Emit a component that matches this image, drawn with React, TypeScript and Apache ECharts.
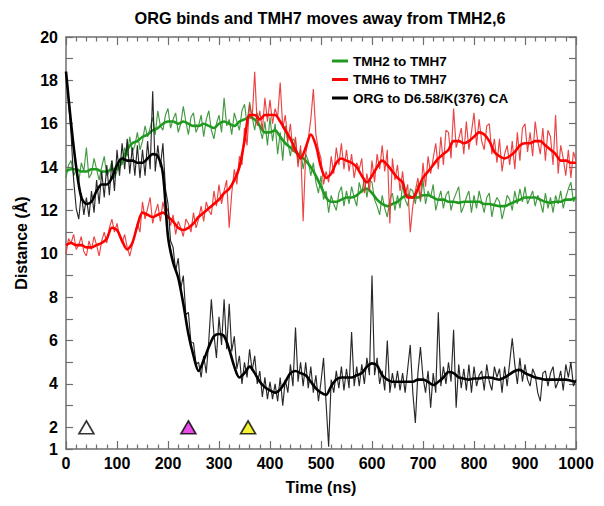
import React, { useEffect, useRef } from 'react';
import * as echarts from 'echarts';

const TITLE = 'ORG binds and TMH7 moves away from TMH2,6';
const X_NAME = 'Time (ns)';
const Y_NAME = 'Distance (Å)';
const SERIES_NAMES = ['TMH2 to TMH7', 'TMH6 to TMH7', 'ORG to D6.58/K(376) CA'];
const SERIES_COLORS = ['#1f9a1f', '#ff0000', '#000000'];
const RAW_COLORS = ['#2f8f2f', '#e83030', '#111111'];

const RAW_STEP = 5; // ns between raw samples
const SMOOTH_STEP = 10; // ns between smoothed samples

const tmh2Raw = [
  13.5, 14.1, 14.3, 13.6, 13.9, 13.3, 14.2, 13.8, 14.9, 13.5,
  13.7, 14.4, 13.9, 13.4, 14.0, 14.5, 13.6, 13.8, 14.3, 13.5,
  13.8, 14.4, 14.1, 14.9, 14.5, 15.4, 14.7, 15.0, 15.6, 14.8,
  15.2, 15.9, 15.4, 15.8, 16.3, 15.5, 16.6, 15.9, 15.7, 16.4,
  16.7, 15.8, 16.2, 16.5, 15.6, 16.0, 16.8, 16.1, 15.5, 16.3,
  16.5, 15.6, 15.9, 16.4, 15.4, 16.2, 16.6, 15.7, 15.3, 16.0,
  16.4, 15.6, 17.2, 15.9, 16.2, 15.5, 16.5, 16.1, 15.7, 16.6,
  16.9, 16.0, 17.0, 16.3, 15.7, 16.5, 15.8, 15.3, 16.1, 15.0,
  16.3, 15.2, 16.0, 14.6, 15.6, 14.3, 15.9, 15.1, 14.5, 15.3,
  15.2, 14.2, 14.8, 13.9, 14.6, 14.3, 13.6, 14.2, 13.3, 12.8,
  13.6, 12.5, 12.9, 11.9, 12.7, 12.3, 12.0, 12.8, 13.1, 12.2,
  12.9, 12.3, 13.1, 12.6, 12.2, 13.3, 12.8, 13.5, 12.6, 13.4,
  13.3, 12.5, 12.2, 11.8, 12.7, 12.1, 11.7, 12.5, 12.8, 12.0,
  12.7, 12.1, 13.2, 12.5, 12.2, 13.0, 12.9, 12.3, 13.2, 12.4,
  13.4, 12.3, 12.9, 12.6, 13.2, 12.0, 12.5, 12.9, 12.1, 12.7,
  12.9, 12.0, 12.5, 12.8, 13.1, 11.9, 12.2, 12.6, 12.9, 11.9,
  12.7, 12.1, 12.9, 12.4, 11.9, 12.6, 12.8, 11.7, 12.3, 12.6,
  12.4, 11.6, 12.1, 12.7, 12.5, 12.0, 12.9, 12.3, 13.0, 12.4,
  13.1, 12.3, 12.6, 12.9, 12.2, 12.7, 12.4, 11.9, 12.8, 12.1,
  12.6, 11.9, 12.7, 12.3, 12.9, 12.1, 12.6, 13.0, 13.3, 12.4,
  12.6,
];

const tmh6Raw = [
  10.0, 10.7, 10.5, 10.9, 10.2, 10.4, 10.8, 10.1, 9.9, 10.6,
  10.2, 10.8, 10.4, 9.9, 10.6, 11.0, 10.5, 11.2, 11.6, 11.0,
  11.4, 10.8, 10.5, 10.9, 10.3, 9.9, 10.4, 10.9, 11.4, 11.0,
  12.4, 11.6, 12.1, 12.6, 11.4, 11.9, 12.3, 11.5, 12.4, 11.8,
  12.1, 11.3, 11.8, 10.9, 11.5, 11.2, 10.8, 11.6, 11.4, 11.0,
  11.9, 11.2, 11.6, 12.2, 11.5, 12.4, 12.0, 11.8, 12.9, 12.2,
  13.2, 12.3, 12.9, 13.4, 11.2, 12.8, 13.9, 13.2, 14.5, 14.1,
  15.8, 15.0, 16.9, 16.2, 18.4, 15.9, 16.6, 15.7, 17.2, 16.1,
  17.1, 16.0, 16.7, 16.3, 17.9, 15.8, 16.4, 15.2, 16.0, 14.7,
  15.4, 14.0, 15.0, 11.5, 14.6, 15.3, 16.2, 17.6, 15.5, 14.8,
  14.4, 13.2, 13.8, 13.3, 14.5, 13.7, 14.9, 14.1, 15.1, 13.9,
  14.8, 13.8, 14.6, 13.5, 14.2, 13.9, 14.4, 12.8, 13.7, 12.9,
  14.3, 13.3, 14.6, 13.9, 15.0, 13.8, 14.8, 11.4, 14.4, 13.4,
  14.1, 12.9, 13.8, 12.7, 13.2, 11.0, 12.2, 12.9, 13.5, 12.5,
  14.2, 13.1, 14.5, 13.7, 14.4, 15.1, 13.9, 15.4, 14.1, 15.7,
  15.6, 14.4, 16.7, 14.9, 15.3, 15.8, 14.6, 16.1, 14.8, 15.6,
  16.5, 15.0, 16.2, 15.2, 14.8, 15.9, 16.0, 14.6, 15.3, 14.2,
  15.3, 13.8, 14.6, 15.0, 14.1, 15.2, 13.9, 15.6, 14.3, 15.8,
  16.0, 14.7, 15.6, 14.5, 16.1, 15.2, 14.6, 15.8, 14.3, 15.7,
  15.4, 14.1, 16.4, 13.7, 15.0, 14.4, 13.6, 14.8, 13.5, 14.7,
  14.3,
];

const orgRaw = [
  18.4, 17.0, 15.5, 13.4, 12.1, 11.6, 12.8, 11.8, 12.6, 11.7,
  12.9, 11.9, 13.4, 12.3, 13.8, 12.6, 14.1, 12.7, 14.3, 12.9,
  14.8, 13.6, 15.1, 13.9, 15.3, 13.7, 14.9, 13.6, 15.0, 13.5,
  14.8, 13.6, 15.2, 13.9, 17.5, 13.8, 15.0, 14.0, 15.1, 13.0,
  12.3, 10.6, 10.3, 9.2, 9.8, 8.4, 9.0, 7.2, 7.3, 5.9,
  5.9, 4.9, 5.0, 4.3, 5.3, 4.5, 6.0, 7.9, 6.3, 5.2,
  7.1, 5.8, 7.9, 5.6, 7.7, 5.5, 6.2, 4.7, 5.3, 4.0,
  5.0, 4.3, 5.6, 4.6, 5.3, 4.0, 4.6, 3.4, 4.3, 3.3,
  4.1, 3.3, 4.0, 3.2, 4.3, 3.0, 4.2, 3.6, 4.9, 3.9,
  6.6, 4.1, 5.0, 3.9, 5.0, 3.8, 4.8, 3.6, 4.4, 3.2,
  4.1, 5.2, 3.1, 1.1, 4.2, 3.6, 4.6, 3.8, 4.8, 3.7,
  4.7, 3.8, 6.4, 3.9, 4.8, 3.9, 4.9, 4.0, 5.2, 4.4,
  9.0, 4.4, 5.2, 4.0, 4.6, 3.7, 6.0, 3.6, 4.5, 3.8,
  4.6, 3.7, 4.5, 3.6, 4.7, 5.8, 3.6, 2.2, 4.5, 5.7,
  4.3, 3.6, 4.6, 2.9, 4.5, 3.6, 7.3, 3.9, 4.8, 4.0,
  5.0, 4.1, 6.5, 2.9, 4.9, 3.8, 4.7, 3.7, 4.9, 3.6,
  4.8, 3.9, 4.4, 4.6, 3.7, 4.9, 4.1, 3.7, 4.8, 4.3,
  4.7, 3.6, 4.8, 3.9, 5.0, 6.1, 4.9, 4.0, 5.2, 4.1,
  4.9, 4.2, 3.9, 4.7, 4.4, 3.6, 3.2, 4.5, 4.6, 3.9,
  4.5, 4.8, 3.8, 4.1, 4.6, 3.7, 4.9, 4.3, 5.0, 3.9,
  4.2,
];

const tmh2Smooth = [
  13.8, 13.9, 13.9, 13.8, 13.8, 13.9, 13.9, 13.8, 13.8, 13.9,
  13.9, 14.3, 14.8, 15.1, 15.2, 15.4, 15.5, 15.7, 15.8, 16.0,
  16.1, 16.1, 16.0, 16.1, 16.0, 15.9, 15.9, 16.0, 15.9, 15.8,
  16.0, 16.1, 16.0, 15.9, 16.1, 16.2, 16.3, 16.2, 15.9, 15.6,
  15.6, 15.7, 15.4, 15.1, 14.9, 14.7, 14.5, 14.3, 14.0, 13.6,
  13.1, 12.6, 12.4, 12.4, 12.5, 12.6, 12.6, 12.7, 12.9, 13.0,
  12.8, 12.5, 12.3, 12.2, 12.3, 12.4, 12.6, 12.7, 12.6, 12.6,
  12.7, 12.7, 12.6, 12.5, 12.5, 12.4, 12.4, 12.35, 12.4, 12.4,
  12.4, 12.4, 12.3, 12.3, 12.25, 12.2, 12.2, 12.3, 12.4, 12.5,
  12.6, 12.6, 12.6, 12.5, 12.4, 12.35, 12.4, 12.4, 12.5, 12.5,
  12.6,
];

const tmh6Smooth = [
  10.4, 10.5, 10.4, 10.4, 10.3, 10.3, 10.4, 10.5, 10.7, 11.2,
  11.1, 10.6, 10.2, 10.5, 11.3, 11.9, 11.8, 11.7, 11.8, 11.9,
  11.7, 11.5, 11.2, 11.1, 11.2, 11.4, 11.7, 11.9, 12.1, 12.3,
  12.5, 12.8, 13.0, 13.4, 14.0, 15.2, 16.4, 16.4, 16.2, 16.4,
  16.4, 16.4, 16.1, 15.7, 15.3, 14.8, 14.4, 14.9, 15.5, 15.0,
  14.0, 13.5, 13.7, 14.2, 14.4, 14.3, 14.2, 14.0, 13.6, 13.3,
  13.6, 14.0, 14.3, 14.1, 13.8, 13.5, 13.3, 12.6, 12.6, 13.0,
  13.5, 13.8, 14.1, 14.4, 14.6, 14.8, 15.2, 15.2, 15.1, 15.2,
  15.4, 15.6, 15.5, 15.2, 14.7, 14.5, 14.4, 14.5, 14.7, 15.0,
  15.1, 15.1, 15.2, 15.2, 15.0, 14.8, 14.6, 14.3, 14.3, 14.2,
  14.2,
];

const orgSmooth = [
  18.4, 16.0, 14.0, 12.6, 12.3, 12.4, 12.9, 13.2, 13.2, 13.5,
  14.1, 14.4, 14.3, 14.3, 14.2, 14.2, 14.4, 14.6, 14.5, 13.7,
  10.8, 9.6, 8.9, 7.7, 6.3, 5.3, 4.6, 5.1, 5.7, 6.2,
  6.3, 6.2, 5.6, 4.8, 4.3, 4.5, 4.8, 4.5, 4.1, 3.85,
  3.7, 3.6, 3.75, 4.1, 4.5, 4.6, 4.5, 4.4, 4.1, 3.8,
  3.6, 3.5, 3.9, 4.2, 4.3, 4.3, 4.3, 4.4, 4.5, 4.8,
  4.95, 4.85, 4.4, 4.2, 4.1, 4.1, 4.1, 4.1, 4.1, 4.2,
  4.2, 4.1, 3.95, 4.1, 4.3, 4.55, 4.5, 4.3, 4.25, 4.2,
  4.25, 4.25, 4.3, 4.3, 4.25, 4.2, 4.3, 4.45, 4.6, 4.65,
  4.5, 4.4, 4.3, 4.25, 4.2, 4.2, 4.2, 4.2, 4.2, 4.15,
  4.1,
];

const markerTimes = [40, 240, 357];
const markerDistances = [2, 2, 2];
const markerColors = ['#ffffff', '#e21ee2', '#f2ee00'];

const FONT = '"Liberation Sans", Arial, Helvetica, sans-serif';
const AXIS_GRAY = '#6e6e6e';

const toPairs = (vals: number[], step: number) => vals.map((v, i) => [i * step, v]);

export default function App() {
  const ref = useRef<HTMLDivElement>(null);

  useEffect(() => {
    if (!ref.current) return;
    const chart = echarts.init(ref.current, undefined, { renderer: 'svg' });

    const raws = [tmh2Raw, tmh6Raw, orgRaw];
    const smooths = [tmh2Smooth, tmh6Smooth, orgSmooth];
    const series: any[] = [];
    for (let k = 0; k < 3; k++) {
      series.push({
        name: SERIES_NAMES[k] + ' (raw)',
        type: 'line',
        data: toPairs(raws[k], RAW_STEP),
        showSymbol: false,
        silent: true,
        lineStyle: { color: RAW_COLORS[k], width: 1.15, opacity: 0.9 },
        itemStyle: { color: RAW_COLORS[k] },
        z: 2 + k * 2,
      });
      series.push({
        name: SERIES_NAMES[k],
        type: 'line',
        data: toPairs(smooths[k], SMOOTH_STEP),
        showSymbol: false,
        silent: true,
        smooth: 0.3,
        lineStyle: { color: SERIES_COLORS[k], width: 2.6 },
        itemStyle: { color: SERIES_COLORS[k] },
        z: 3 + k * 2,
      });
    }
    series.push({
      name: 'events',
      type: 'scatter',
      symbol: 'triangle',
      symbolSize: [15, 13],
      clip: false,
      silent: true,
      z: 20,
      data: markerTimes.map((t, i) => ({
        value: [t, markerDistances[i]],
        itemStyle: { color: markerColors[i], borderColor: '#000', borderWidth: 1.6 },
      })),
    });

    const tickLabel = { fontFamily: FONT, fontWeight: 'bold', fontSize: 16, color: '#000' };
    const xBase = {
      type: 'value',
      min: 0,
      max: 1000,
      interval: 100,
      splitLine: { show: false },
      axisLine: { show: true, onZero: false, lineStyle: { color: AXIS_GRAY, width: 1.5 } },
      axisTick: { show: true, inside: true, length: 8, lineStyle: { color: AXIS_GRAY, width: 1.2 } },
      minorTick: { show: true, splitNumber: 5, length: 4.5, lineStyle: { color: AXIS_GRAY, width: 1.2 } },
    };
    const yBase = {
      type: 'value',
      min: 1,
      max: 20,
      interval: 1,
      splitLine: { show: false },
      axisLine: { show: true, onZero: false, lineStyle: { color: AXIS_GRAY, width: 1.5 } },
      axisTick: { show: true, inside: true, length: 7, lineStyle: { color: AXIS_GRAY, width: 1.2 } },
    };

    chart.setOption({
      animation: false,
      backgroundColor: '#ffffff',
      grid: { left: 66, right: 28, top: 37, bottom: 57, containLabel: false },
      title: { show: false },
      graphic: [
        {
          type: 'text',
          x: 320,
          y: 18,
          style: {
            text: TITLE,
            textAlign: 'center',
            textVerticalAlign: 'middle',
            fontFamily: FONT,
            fontWeight: 'bold',
            fontSize: 16.3,
            fill: '#000',
          },
        },
      ],
      legend: {
        show: true,
        orient: 'vertical',
        left: 327,
        top: 49,
        icon: 'rect',
        itemWidth: 16,
        itemHeight: 3,
        itemGap: 4.5,
        selectedMode: false,
        data: SERIES_NAMES,
        textStyle: { fontFamily: FONT, fontWeight: 'bold', fontSize: 13.5, color: '#000', lineHeight: 14 },
      },
      xAxis: [
        {
          ...xBase,
          position: 'bottom',
          name: X_NAME,
          nameLocation: 'middle',
          nameGap: 30,
          nameTextStyle: { fontFamily: FONT, fontWeight: 'bold', fontSize: 16, color: '#000' },
          axisLabel: { ...tickLabel, margin: 6, formatter: (v: number) => String(v) },
        },
        { ...xBase, position: 'top', axisLabel: { show: false } },
      ],
      yAxis: [
        {
          ...yBase,
          position: 'left',
          name: Y_NAME,
          nameLocation: 'middle',
          nameGap: 36,
          nameRotate: 90,
          nameTextStyle: { fontFamily: FONT, fontWeight: 'bold', fontSize: 16, color: '#000' },
          axisLabel: {
            ...tickLabel,
            margin: 8,
            formatter: (v: number) => (v === 1 || v % 2 === 0 ? String(v) : ''),
          },
        },
        { ...yBase, position: 'right', axisLabel: { show: false } },
      ],
      series,
    });

    return () => chart.dispose();
  }, []);

  return (
    <div
      ref={ref}
      style={{ position: 'fixed', left: 0, top: 0, width: 604, height: 506, background: '#fff' }}
    />
  );
}
